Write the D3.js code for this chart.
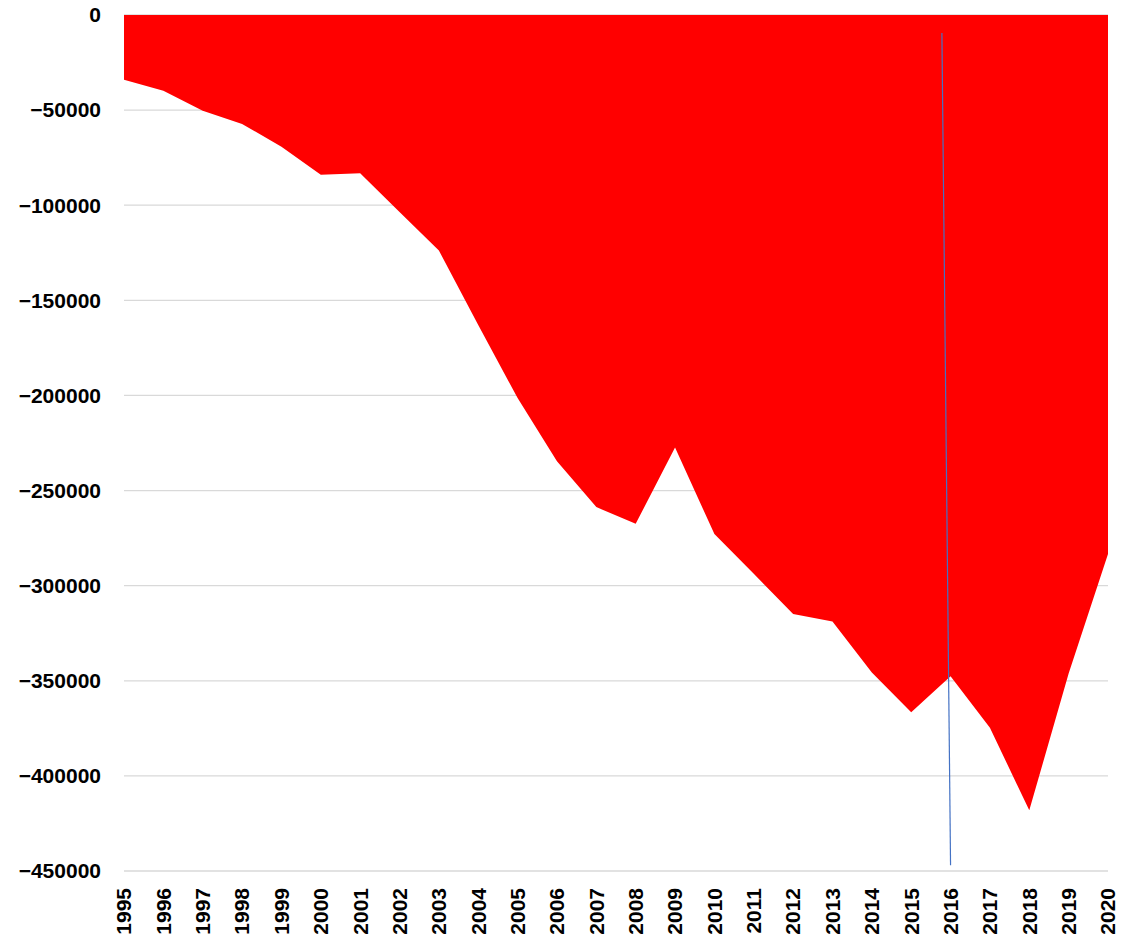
<!DOCTYPE html>
<html>
<head>
<meta charset="utf-8">
<script src="https://cdn.jsdelivr.net/npm/d3@7"></script>
<style>
  html, body { margin: 0; padding: 0; background: #fff; }
  svg { display: block; }
  text { font-family: "Liberation Sans", Arial, sans-serif; font-weight: bold; fill: #000; }
</style>
</head>
<body>
<svg id="chart" width="1127" height="943"></svg>
<script>
const years = [1995,1996,1997,1998,1999,2000,2001,2002,2003,2004,2005,2006,2007,2008,2009,2010,2011,2012,2013,2014,2015,2016,2017,2018,2019,2020];
const values = [-34100,-39800,-50300,-57300,-69200,-84000,-83200,-103500,-123800,-163000,-201400,-234600,-258700,-267500,-227300,-272900,-293800,-314900,-318800,-345600,-366500,-347600,-374700,-418100,-346200,-283300];
const yTicks = [0,-50000,-100000,-150000,-200000,-250000,-300000,-350000,-400000,-450000];
const markerYears = [2015.78, 2016];
const markerValues = [-9500, -447000];

const svg = d3.select("#chart");
const x = d3.scaleLinear().domain([1995, 2020]).range([124, 1108]);
const y = d3.scaleLinear().domain([0, -450000]).range([15, 871]);

// gridlines
svg.append("g").selectAll("line").data(yTicks).join("line")
  .attr("x1", x(1995)).attr("x2", x(2020))
  .attr("y1", d => y(d)).attr("y2", d => y(d))
  .attr("stroke", "#d9d9d9").attr("stroke-width", 1.3);

// area
const data = years.map((yr, i) => ({yr, v: values[i]}));
const area = d3.area().x(d => x(d.yr)).y0(y(0)).y1(d => y(d.v));
svg.append("path").datum(data).attr("d", area).attr("fill", "#ff0000");

// marker line
const mk = markerYears.map((yr, i) => ({yr, v: markerValues[i]}));
svg.append("path").datum(mk)
  .attr("d", d3.line().x(d => x(d.yr)).y(d => y(d.v)))
  .attr("stroke", "#4472c4").attr("stroke-width", 1.2).attr("fill", "none");

// y labels
svg.append("g").selectAll("text").data(yTicks).join("text")
  .attr("x", 101).attr("y", d => y(d)).attr("dy", "0.35em")
  .attr("text-anchor", "end").style("font-size", "21px")
  .text(d => d3.format("d")(d));

// x labels
svg.append("g").selectAll("text").data(years).join("text")
  .attr("transform", d => `translate(${x(d)},888) rotate(-90)`)
  .attr("dy", "0.35em").attr("text-anchor", "end").style("font-size", "21px")
  .text(d => d);
</script>
</body>
</html>
